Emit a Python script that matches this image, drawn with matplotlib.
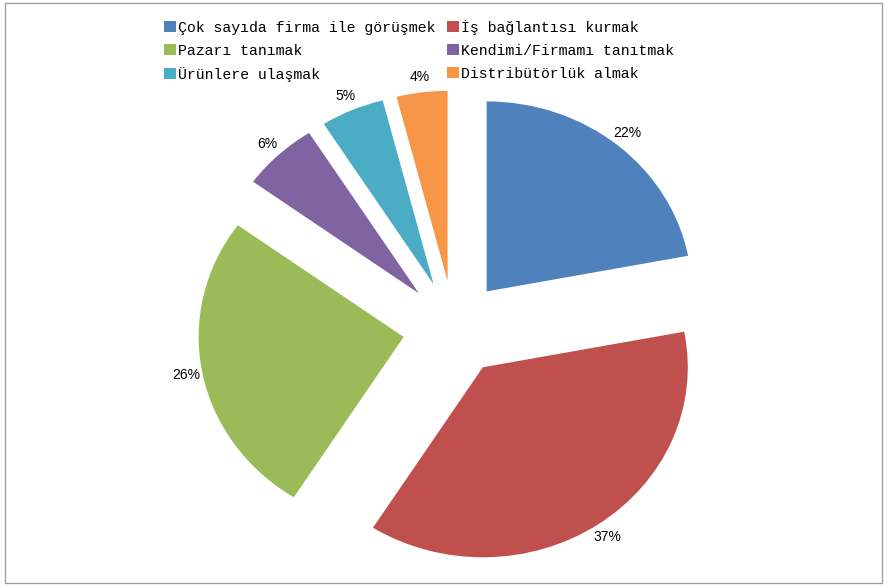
import matplotlib.pyplot as plt
from matplotlib.patches import Rectangle

# dados do grafico
categorias = ['Çok sayıda firma ile görüşmek', 'İş bağlantısı kurmak', 'Pazarı tanımak',
              'Kendimi/Firmamı tanıtmak', 'Ürünlere ulaşmak', 'Distribütörlük almak']
valores = [22, 37, 26, 6, 5, 4]
cores = ['#4F81BD', '#C0504D', '#9BBB59', '#8064A2', '#4BACC6', '#F79646']

fig = plt.figure(figsize=(8.89, 5.88), dpi=100)
ax = fig.add_axes([0, 0, 1, 1])

wedges, textos, pcts = ax.pie(valores, colors=cores, startangle=90, counterclock=False,
                              explode=[0.25] * len(valores), autopct='%1.0f%%',
                              pctdistance=1.08, radius=1.0,
                              textprops={'family': 'Liberation Sans', 'fontsize': 10})

# pizza levemente eliptica: centro ~(454, 328) px, 205 px em x e 190 px em y
ax.set_xlim(-454 / 205, (889 - 454) / 205)
ax.set_ylim(-(588 - 328) / 190, 328 / 190)
ax.set_aspect('auto')
ax.axis('off')

# legenda preenchida por linhas (como no original)
ordem = [0, 2, 4, 1, 3, 5]
fig.legend([wedges[i] for i in ordem], [categorias[i] for i in ordem], ncol=2, loc='upper left',
           bbox_to_anchor=(164 / 889, 1 - 20 / 588), frameon=False,
           prop={'family': 'Liberation Mono', 'size': 10.7},
           handlelength=0.8, handleheight=0.75, handletextpad=0.15,
           columnspacing=0.75, labelspacing=0.6, borderpad=0, borderaxespad=0)

fig.patches.append(Rectangle((5 / 889, 5 / 588), 877 / 889, 580 / 588, transform=fig.transFigure,
                             fill=False, edgecolor='#a0a0a0', linewidth=1))

plt.savefig('out.png', dpi=100)
